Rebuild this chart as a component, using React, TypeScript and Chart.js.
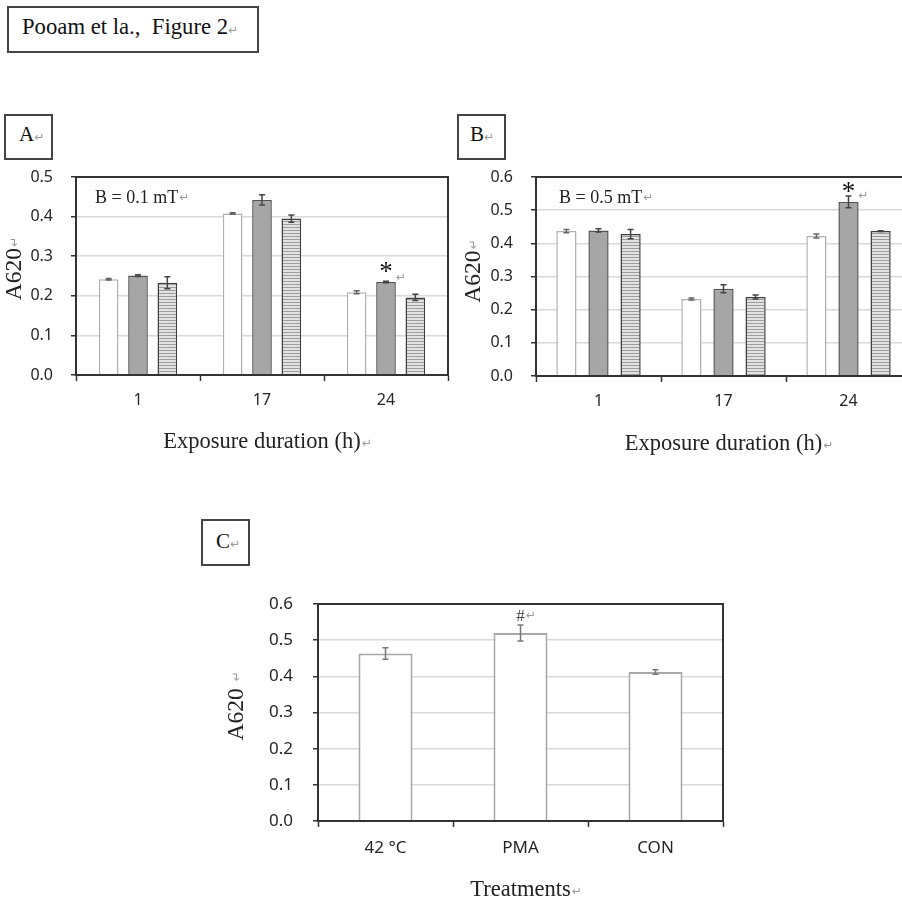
import React, { useEffect, useRef } from 'react';
import { Chart, registerables } from 'chart.js';

Chart.register(...registerables);

// ---------- data ----------
const durations = ['1', '17', '24'];

const a01White = [0.242, 0.408, 0.209];
const a01WhiteErr = [0.002, 0.002, 0.004];
const a01Gray = [0.251, 0.442, 0.235];
const a01GrayErr = [0.002, 0.013, 0.002];
const a01Hatched = [0.233, 0.395, 0.196];
const a01HatchedErr = [0.015, 0.009, 0.008];

const b05White = [0.437, 0.232, 0.422];
const b05WhiteErr = [0.005, 0.003, 0.006];
const b05Gray = [0.439, 0.263, 0.525];
const b05GrayErr = [0.005, 0.012, 0.018];
const b05Hatched = [0.428, 0.238, 0.437];
const b05HatchedErr = [0.014, 0.006, 0.001];

const treatments = ['42 °C', 'PMA', 'CON'];
const cValues = [0.463, 0.52, 0.412];
const cErr = [0.016, 0.022, 0.006];

// ---------- styling ----------
const SERIF = '"Liberation Serif", "Times New Roman", serif';
const SANS = '"Noto Sans", "Open Sans", sans-serif';
const MARK = '↵';
const MARK_FONT = '12px "DejaVu Sans"';
const MARK_COLOR = '#9a9a9a';
const DARK = '#333333';
const Y_TITLE_SIZE = 23.5;
const X_TITLE_SIZE = 22.5;

function makeHatch(): CanvasPattern | string {
  const c = document.createElement('canvas');
  c.width = 4;
  c.height = 3;
  const g = c.getContext('2d');
  if (!g) return '#cccccc';
  g.fillStyle = '#e3e3e3';
  g.fillRect(0, 0, 4, 3);
  g.fillStyle = '#9c9c9c';
  g.fillRect(0, 0, 4, 1);
  return g.createPattern(c, 'repeat') || '#cccccc';
}

function drawTextWithMark(
  ctx: CanvasRenderingContext2D,
  text: string,
  x: number,
  y: number,
  font: string,
  color: string,
  align: 'left' | 'center',
  markDx = 1,
  markDy = 0
) {
  ctx.font = font;
  ctx.fillStyle = color;
  ctx.textBaseline = 'alphabetic';
  ctx.textAlign = 'left';
  const w = ctx.measureText(text).width;
  const x0 = align === 'center' ? x - w / 2 : x;
  ctx.fillText(text, x0, y);
  ctx.font = MARK_FONT;
  ctx.fillStyle = MARK_COLOR;
  ctx.fillText(MARK, x0 + w + markDx, y + markDy);
}

const errorBarPlugin = {
  id: 'errorBars',
  afterDatasetsDraw(chart: any) {
    const { ctx } = chart;
    const ys = chart.scales.y;
    chart.data.datasets.forEach((ds: any, i: number) => {
      const errs: number[] | undefined = ds.errors;
      if (!errs) return;
      const meta = chart.getDatasetMeta(i);
      ctx.save();
      ctx.strokeStyle = ds.errorColor || '#555555';
      ctx.lineWidth = 1.5;
      meta.data.forEach((el: any, j: number) => {
        const v = ds.data[j] as number;
        const e = errs[j];
        const x = el.x;
        const yt = ys.getPixelForValue(v + e);
        const yb = ys.getPixelForValue(v - e);
        ctx.beginPath();
        ctx.moveTo(x, yt);
        ctx.lineTo(x, yb);
        ctx.moveTo(x - 3, yt);
        ctx.lineTo(x + 3, yt);
        ctx.moveTo(x - 3, yb);
        ctx.lineTo(x + 3, yb);
        ctx.stroke();
      });
      ctx.restore();
    });
  },
};

type Ann = {
  yTitle: string;
  yDx: number;
  yDy: number;
  xTitle: string;
  xDy: number;
  note?: { text: string; dx: number; dy: number };
  marker: { text: string; ds: number; idx: number; font: string; color: string; dy: number; markDx: number; markDy: number };
};

function annotationPlugin(ann: Ann) {
  return {
    id: 'annot',
    afterDatasetsDraw(chart: any) {
      const { ctx, chartArea: ca } = chart;
      ctx.save();
      // frame
      ctx.strokeStyle = DARK;
      ctx.lineWidth = 2;
      ctx.strokeRect(ca.left, ca.top, ca.right - ca.left, ca.bottom - ca.top);

      // y title (rotated)
      const cx = ca.left - ann.yDx;
      const cy = (ca.top + ca.bottom) / 2 + ann.yDy;
      ctx.save();
      ctx.translate(cx, cy);
      ctx.rotate(-Math.PI / 2);
      const yFont = `${Y_TITLE_SIZE}px ${SERIF}`;
      ctx.font = yFont;
      const w1 = ctx.measureText(ann.yTitle).width;
      ctx.font = MARK_FONT;
      const w2 = ctx.measureText(MARK).width;
      const start = -(w1 + w2) / 2;
      drawTextWithMark(ctx, ann.yTitle, start, Y_TITLE_SIZE * 0.338, yFont, '#222222', 'left', 1, -3);
      ctx.restore();

      // x title
      drawTextWithMark(ctx, ann.xTitle, (ca.left + ca.right) / 2, ca.bottom + ann.xDy, `${X_TITLE_SIZE}px ${SERIF}`, '#222222', 'center', 1, -1);

      // note inside plot
      if (ann.note) {
        drawTextWithMark(ctx, ann.note.text, ca.left + ann.note.dx, ca.top + ann.note.dy, `18px ${SERIF}`, '#222222', 'left', 1, -2);
      }

      // significance marker
      const m = ann.marker;
      const el = chart.getDatasetMeta(m.ds).data[m.idx];
      const v = chart.data.datasets[m.ds].data[m.idx] as number;
      const top = chart.scales.y.getPixelForValue(v);
      drawTextWithMark(ctx, m.text, el.x, top + m.dy, m.font, m.color, 'center', m.markDx, m.markDy);
      ctx.restore();
    },
  };
}

type Spec = {
  W: number;
  H: number;
  left: number;
  top: number;
  right: number;
  bottom: number;
  yMax: number;
  labels: string[];
  datasets: any[];
  cp: number;
  bp: number;
  fontSize: number;
  xPad: number;
  yPad: number;
  ann: Ann;
};

function buildChart(canvas: HTMLCanvasElement, spec: Spec) {
  const tickFont = { family: SANS, size: spec.fontSize };
  return new Chart(canvas, {
    type: 'bar',
    data: { labels: spec.labels, datasets: spec.datasets },
    options: {
      responsive: false,
      animation: false,
      devicePixelRatio: 1,
      layout: { padding: { top: spec.top, right: spec.W - spec.right, left: 0, bottom: 0 } },
      datasets: { bar: { categoryPercentage: spec.cp, barPercentage: spec.bp } },
      plugins: { legend: { display: false }, tooltip: { enabled: false }, title: { display: false } },
      scales: {
        x: {
          grid: { offset: true, drawOnChartArea: false, drawTicks: true, tickLength: 6, tickColor: DARK, tickWidth: 1.5 },
          border: { display: true, color: DARK, width: 2 },
          ticks: { font: tickFont, color: '#262626', padding: spec.xPad, maxRotation: 0, autoSkip: false },
          afterFit: (s: any) => {
            s.height = spec.H - spec.bottom;
          },
        },
        y: {
          min: 0,
          max: spec.yMax,
          grid: { color: '#d9d9d9', lineWidth: 1.5, tickLength: 5, tickColor: DARK, tickWidth: 1.5 },
          border: { display: true, color: DARK, width: 2 },
          ticks: {
            stepSize: 0.1,
            font: tickFont,
            color: '#262626',
            padding: spec.yPad,
            callback: (v: any) => Number(v).toFixed(1),
          },
          afterFit: (s: any) => {
            s.width = spec.left;
          },
        },
      },
    } as any,
    plugins: [errorBarPlugin, annotationPlugin(spec.ann)],
  });
}

function tripleDatasets(white: number[], we: number[], gray: number[], ge: number[], hatch: number[], he: number[]) {
  const pattern = makeHatch();
  return [
    { data: white, errors: we, backgroundColor: '#ffffff', borderColor: '#b0b0b0', borderWidth: 1.5, errorColor: '#666666' },
    { data: gray, errors: ge, backgroundColor: '#a6a6a6', borderColor: '#555555', borderWidth: 1.5, errorColor: '#444444' },
    { data: hatch, errors: he, backgroundColor: pattern, borderColor: '#3f3f3f', borderWidth: 1.5, errorColor: '#444444' },
  ];
}

function ChartBox({ x, y, W, H, make }: { x: number; y: number; W: number; H: number; make: (c: HTMLCanvasElement) => Chart }) {
  const ref = useRef<HTMLCanvasElement>(null);
  useEffect(() => {
    if (!ref.current) return;
    const ch = make(ref.current);
    return () => ch.destroy();
  }, []);
  return <canvas ref={ref} width={W} height={H} style={{ position: 'absolute', left: x, top: y, width: W, height: H }} />;
}

function Label({ x, base, size, text }: { x: number; base: number; size: number; text: string }) {
  return (
    <div
      style={{
        position: 'absolute',
        left: x,
        top: base - size * 0.8375,
        fontFamily: SERIF,
        fontSize: size,
        lineHeight: `${size}px`,
        whiteSpace: 'pre',
        color: '#111111',
      }}
    >
      {text}
      <span style={{ fontFamily: '"DejaVu Sans"', fontSize: 12, lineHeight: '12px', color: MARK_COLOR }}>{MARK}</span>
    </div>
  );
}

function Frame({ x, y, w, h }: { x: number; y: number; w: number; h: number }) {
  return (
    <div
      style={{
        position: 'absolute',
        left: x,
        top: y,
        width: w,
        height: h,
        boxSizing: 'border-box',
        border: '2px solid #444444',
      }}
    />
  );
}

export default function App() {
  const makeA = (c: HTMLCanvasElement) =>
    buildChart(c, {
      W: 465,
      H: 320,
      left: 76,
      top: 37,
      right: 448,
      bottom: 235,
      yMax: 0.5,
      labels: durations,
      datasets: tripleDatasets(a01White, a01WhiteErr, a01Gray, a01GrayErr, a01Hatched, a01HatchedErr),
      cp: 0.71,
      bp: 0.67,
      fontSize: 16,
      xPad: 9.5,
      yPad: 18,
      ann: {
        yTitle: 'A620',
        yDx: 62.5,
        yDy: -7,
        xTitle: 'Exposure duration (h)',
        xDy: 73,
        note: { text: 'B = 0.1 mT', dx: 19, dy: 26 },
        marker: { text: '*', ds: 1, idx: 2, font: `27px ${SERIF}`, color: '#111111', dy: -2, markDx: 3, markDy: 1 },
      },
    });

  const makeB = (c: HTMLCanvasElement) =>
    buildChart(c, {
      W: 475,
      H: 320,
      left: 86,
      top: 37,
      right: 461,
      bottom: 236,
      yMax: 0.6,
      labels: durations,
      datasets: tripleDatasets(b05White, b05WhiteErr, b05Gray, b05GrayErr, b05Hatched, b05HatchedErr),
      cp: 0.77,
      bp: 0.63,
      fontSize: 16,
      xPad: 9.5,
      yPad: 18,
      ann: {
        yTitle: 'A620',
        yDx: 63.5,
        yDy: -5,
        xTitle: 'Exposure duration (h)',
        xDy: 74,
        note: { text: 'B = 0.5 mT', dx: 23, dy: 26 },
        marker: { text: '*', ds: 1, idx: 2, font: `27px ${SERIF}`, color: '#111111', dy: -2, markDx: 3, markDy: -1 },
      },
    });

  const makeC = (c: HTMLCanvasElement) =>
    buildChart(c, {
      W: 550,
      H: 337,
      left: 128,
      top: 44,
      right: 533,
      bottom: 261,
      yMax: 0.6,
      labels: treatments,
      datasets: [
        { data: cValues, errors: cErr, backgroundColor: '#ffffff', borderColor: '#a8a8a8', borderWidth: 2, errorColor: '#777777' },
      ],
      cp: 1,
      bp: 0.4,
      fontSize: 17,
      xPad: 11,
      yPad: 20,
      ann: {
        yTitle: 'A620 ',
        yDx: 83,
        yDy: -6,
        xTitle: 'Treatments',
        xDy: 75,
        marker: { text: '#', ds: 0, idx: 1, font: `17px ${SERIF}`, color: '#444444', dy: -12, markDx: 1, markDy: -2 },
      },
    });

  return (
    <div style={{ position: 'absolute', left: 0, top: 0, width: 902, height: 897, overflow: 'hidden', background: '#ffffff' }}>
      <Frame x={7} y={6} w={252} h={47} />
      <Label x={22} base={35} size={22.7} text={'Pooam et la.,  Figure 2'} />

      <Frame x={4} y={114} w={49} h={46} />
      <Label x={19} base={142} size={21} text={'A'} />
      <Frame x={457} y={114} w={49} h={46} />
      <Label x={470} base={142} size={21} text={'B'} />
      <Frame x={201} y={519} w={49} h={47} />
      <Label x={216} base={549} size={21} text={'C'} />

      <ChartBox x={0} y={140} W={465} H={320} make={makeA} />
      <ChartBox x={450} y={140} W={475} H={320} make={makeB} />
      <ChartBox x={190} y={560} W={550} H={337} make={makeC} />
    </div>
  );
}
